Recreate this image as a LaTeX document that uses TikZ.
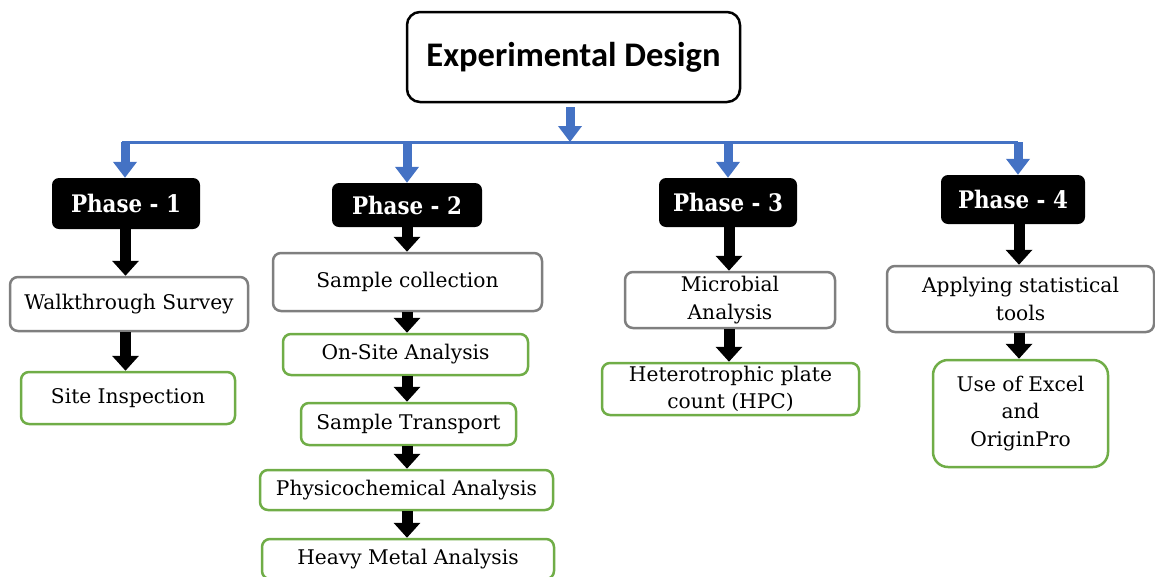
\documentclass[tikz,border=0pt]{standalone}
\usepackage{fontspec}
\setmainfont{DejaVu Serif}
\newfontfamily\titlefont{Carlito}
\usetikzlibrary{arrows.meta}
\definecolor{flowblue}{HTML}{4472C4}
\definecolor{boxgray}{HTML}{7F7F7F}
\definecolor{boxgreen}{HTML}{70AD47}
\newcommand{\tallphase}[1]{\scalebox{1.02}[1.15]{#1}}
\tikzset{
  titlebox/.style={draw=black, line width=2.5pt, rounded corners=13pt, fill=white,
    inner sep=0pt, font=\titlefont\bfseries\fontsize{34.5}{40}\selectfont},
  phasebox/.style={fill=black, rounded corners=7pt, inner sep=0pt, text=white,
    font=\bfseries\fontsize{21}{24}\selectfont},
  graybox/.style={draw=boxgray, line width=2.5pt, rounded corners=8pt, fill=white,
    inner sep=0pt, align=center, font=\fontsize{20.2}{27.5}\selectfont},
  greenbox/.style={graybox, draw=boxgreen},
  blkarrow/.style={draw=black, line width=11pt, -{Triangle[width=26pt,length=15pt]}},
  bluearrow/.style={draw=flowblue, line width=9pt, -{Triangle[width=23pt,length=16pt]}},
  blueline/.style={draw=flowblue, line width=3pt},
}
\begin{document}
\begin{tikzpicture}[x=1pt,y=-1pt]
\useasboundingbox (0,0) rectangle (1155,576);
\clip (0,0) rectangle (1155,576);

% title
\node[titlebox, minimum width=333pt, minimum height=90pt] (title) at (573.5,57) {Experimental Design};

% phase headers
\node[phasebox, minimum width=148pt, minimum height=51pt] (p1) at (126,203.5) {\tallphase{Phase - 1}};
\node[phasebox, minimum width=150pt, minimum height=44pt] (p2) at (407,205) {\tallphase{Phase - 2}};
\node[phasebox, minimum width=138pt, minimum height=49pt] (p3) at (728,202.5) {\tallphase{Phase - 3}};
\node[phasebox, minimum width=144pt, minimum height=49pt] (p4) at (1013,199.5) {\tallphase{Phase - 4}};

% phase 1
\node[graybox, minimum width=238pt, minimum height=54pt] (walk) at (129,304) {Walkthrough Survey};
\node[greenbox, minimum width=214pt, minimum height=52pt] (site) at (128,398) {Site Inspection};

% phase 2
\node[graybox, minimum width=269pt, minimum height=58pt] (samp) at (407.5,282) {Sample collection};
\node[greenbox, minimum width=245pt, minimum height=41pt] (onsite) at (405.5,354.5) {On-Site Analysis};
\node[greenbox, minimum width=215pt, minimum height=42pt] (transp) at (408.5,424) {Sample Transport};
\node[greenbox, minimum width=293pt, minimum height=40pt] (physico) at (406.5,490) {Physicochemical Analysis};
\node[greenbox, minimum width=292pt, minimum height=40pt] (heavy) at (408,559) {Heavy Metal Analysis};

% phase 3
\node[graybox, minimum width=210pt, minimum height=56pt] (micro) at (730,300) {Microbial\\Analysis};
\node[greenbox, minimum width=257pt, minimum height=52pt] (hpc) at (730.5,389) {Heterotrophic plate\\count (HPC)};

% phase 4
\node[graybox, minimum width=267pt, minimum height=66pt] (apply) at (1020.5,299) {Applying statistical\\tools};
\node[greenbox, minimum width=175pt, minimum height=107pt, rounded corners=15pt] (excel) at (1020.5,413.5) {Use of Excel\\and\\OriginPro};

% blue distribution tree
\coordinate (tl) at (122,142);
\coordinate (tr) at (1018,142);
\coordinate (tm) at (570,142);
\draw[blueline] (tl) -- (tr);
\draw[bluearrow] ([yshift=-4pt]title.south -| tm) -- (tm);
\draw[bluearrow] (tl -| 125,0) -- (p1.north -| 125,0);
\draw[bluearrow] (tl -| p2.north) -- (p2.north);
\draw[bluearrow] (tl -| p3.north) -- (p3.north);
\draw[bluearrow] (tr) -- (p4.north -| tr);

% column connectors
\draw[blkarrow] (p1.south -| 125.5,0) -- (walk.north -| 125.5,0);
\draw[blkarrow] (walk.south -| 125.5,0) -- (site.north -| 125.5,0);

\draw[blkarrow] (p2.south) -- (samp.north -| p2.south);
\draw[blkarrow] (samp.south -| p2.south) -- (onsite.north -| p2.south);
\draw[blkarrow] (onsite.south -| p2.south) -- (transp.north -| p2.south);
\draw[blkarrow] (transp.south -| p2.south) -- (physico.north -| p2.south);
\draw[blkarrow] (physico.south -| p2.south) -- (heavy.north -| p2.south);

\draw[blkarrow] (p3.south -| 729,0) -- (micro.north -| 729,0);
\draw[blkarrow] (micro.south -| 729,0) -- (hpc.north -| 729,0);

\draw[blkarrow] (p4.south -| 1019,0) -- (apply.north -| 1019,0);
\draw[blkarrow] (apply.south -| 1019,0) -- (excel.north -| 1019,0);
\end{tikzpicture}
\end{document}
